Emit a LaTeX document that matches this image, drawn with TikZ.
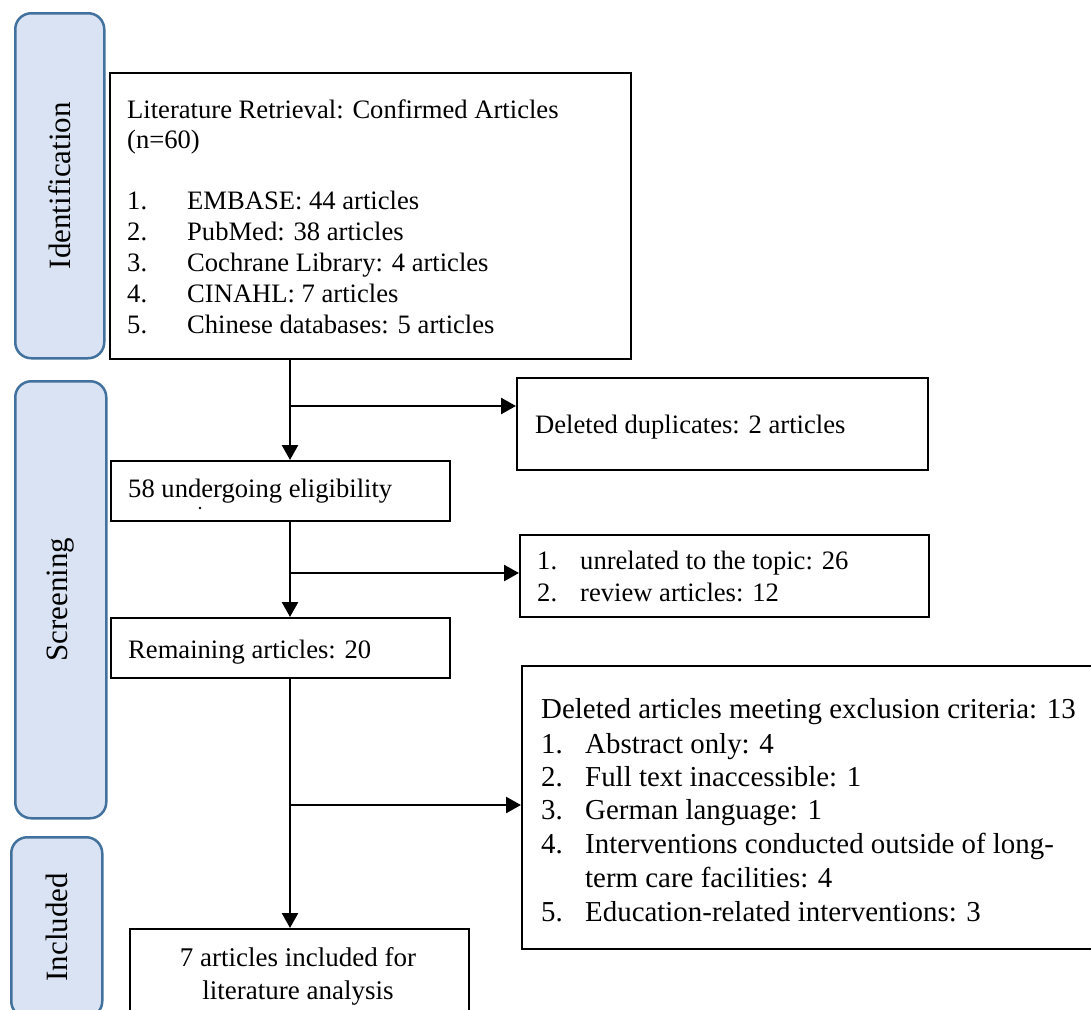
\documentclass[tikz,border=0pt]{standalone}
\usepackage{fontspec}
\setmainfont{Liberation Serif}
\usetikzlibrary{arrows.meta}
\definecolor{barfill}{HTML}{DAE3F3}
\definecolor{barline}{HTML}{41719C}
\tikzset{
  bar/.style={draw=barline, fill=barfill, line width=2.5pt, rounded corners=16pt, anchor=north west, inner sep=0pt},
  barlabel/.style={rotate=90, font=\fontsize{31}{31}\selectfont, inner sep=0pt},
  box/.style={draw=black, line width=1.6pt, anchor=north west, inner sep=0pt},
  txt/.style={anchor=base west, inner sep=0pt, font=\fontsize{26.6}{26.6}\selectfont},
  bigtxt/.style={anchor=base west, inner sep=0pt, font=\fontsize{28.9}{28.9}\selectfont},
  ctxt/.style={anchor=base, inner sep=0pt, font=\fontsize{27}{27}\selectfont},
  arr/.style={line width=2.5pt, -{Triangle[length=15pt,width=16pt]}},
}
\begin{document}
\begin{tikzpicture}[x=1pt,y=-1pt]
\useasboundingbox (0,0) rectangle (1091,1009);
\clip (0,0) rectangle (1091,1009);
% side bars
\node[bar, minimum width=89pt, minimum height=345pt] (sid) at (14,12) {};
\node[barlabel] (lid) at (sid.center) {Identification};
\node[bar, minimum width=91pt, minimum height=437pt] (sscr) at (14,380) {};
\node[barlabel] (lscr) at (sscr.center) {Screening};
\node[bar, minimum width=91pt, minimum height=180pt] (sinc) at (10,836) {};
\node[barlabel] (linc) at (sinc.center) {Included};
% boxes
\node[box, minimum width=521pt, minimum height=286pt] (b1) at (109,72) {};
\node[box, minimum width=411pt, minimum height=92pt] (b2) at (516,377) {};
\node[box, minimum width=339pt, minimum height=60pt] (b3) at (110,460) {};
\node[box, minimum width=409pt, minimum height=82pt] (b4) at (519,534) {};
\node[box, minimum width=339pt, minimum height=60pt] (b5) at (110,617) {};
\node[box, minimum width=590pt, minimum height=283pt] (b6) at (521,665) {};
\node[box, minimum width=339pt, minimum height=100pt] (b7) at (129,928) {};
% texts box 1
\node[txt] (t1a) at (127,118) {Literature Retrieval: Confirmed Articles};
\node[txt] (t1b) at (127,148) {(n=60)};
\node[txt] (n11) at (127,209) {1.};
\node[txt] (t11) at (187,209) {EMBASE: 44 articles};
\node[txt] (n12) at (127,240) {2.};
\node[txt] (t12) at (187,240) {PubMed: 38 articles};
\node[txt] (n13) at (127,271) {3.};
\node[txt] (t13) at (187,271) {Cochrane Library: 4 articles};
\node[txt] (n14) at (127,302) {4.};
\node[txt] (t14) at (187,302) {CINAHL: 7 articles};
\node[txt] (n15) at (127,333) {5.};
\node[txt] (t15) at (187,333) {Chinese databases: 5 articles};
% box 2
\node[txt] (t2) at (535,433) {Deleted duplicates: 2 articles};
% box 3
\node[txt] (t3) at (128,497) {58 undergoing eligibility};
\fill (200,508) circle (1.4pt);
% box 4
\node[txt] (n41) at (537,569) {1.};
\node[txt] (t41) at (580,569) {unrelated to the topic: 26};
\node[txt] (n42) at (537,601) {2.};
\node[txt] (t42) at (580,601) {review articles: 12};
% box 5
\node[txt] (t5) at (128,658) {Remaining articles: 20};
% box 6
\node[bigtxt] (t6) at (541,718) {Deleted articles meeting exclusion criteria: 13};
\node[bigtxt] (n61) at (541,753) {1.};
\node[bigtxt] (t61) at (585,753) {Abstract only: 4};
\node[bigtxt] (n62) at (541,786) {2.};
\node[bigtxt] (t62) at (585,786) {Full text inaccessible: 1};
\node[bigtxt] (n63) at (541,819) {3.};
\node[bigtxt] (t63) at (585,819) {German language: 1};
\node[bigtxt] (n64) at (541,853) {4.};
\node[bigtxt] (t64) at (585,853) {Interventions conducted outside of long-};
\node[bigtxt] (t64b) at (585,887) {term care facilities: 4};
\node[bigtxt] (n65) at (541,921) {5.};
\node[bigtxt] (t65) at (585,921) {Education-related interventions: 3};
% box 7
\node[ctxt] (t7a) at (298,966) {7 articles included for};
\node[ctxt] (t7b) at (298,999) {literature analysis};
% connectors
\coordinate (x0) at (290,0);
\coordinate (j1) at (290,406);
\coordinate (j2) at (290,573);
\coordinate (j3) at (290,805);
\draw[arr] (b1.south -| x0) -- (b3.north -| x0);
\draw[arr] (j1) -- (b2.west |- j1);
\draw[arr] (b3.south -| x0) -- (b5.north -| x0);
\draw[arr] (j2) -- (b4.west |- j2);
\draw[arr] (b5.south -| x0) -- (b7.north -| x0);
\draw[arr] (j3) -- (b6.west |- j3);
\end{tikzpicture}
\end{document}
